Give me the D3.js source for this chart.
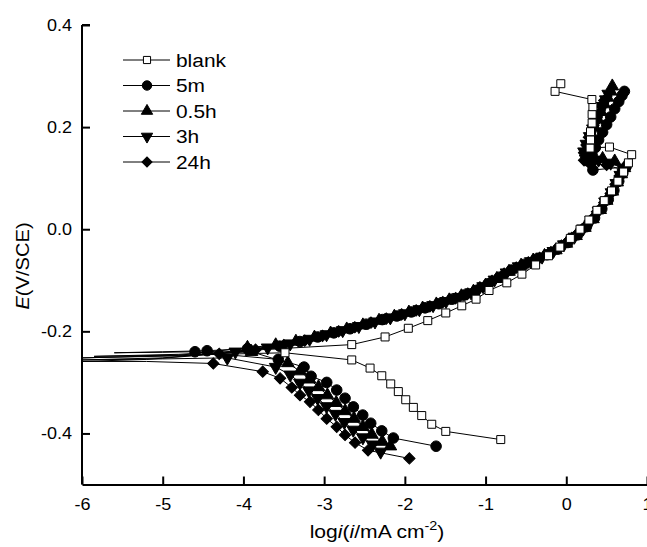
<!DOCTYPE html>
<html>
<head>
<meta charset="utf-8">
<script src="https://cdn.jsdelivr.net/npm/d3@7"></script>
<style>
  body { margin: 0; background: #fff; }
  svg { display: block; font-family: "Liberation Sans", Arial, sans-serif; }
</style>
</head>
<body>
<svg id="chart" width="647" height="547"></svg>
<script>
// tick values
const xTicks = [-6, -5, -4, -3, -2, -1, 0, 1];
const yTicks = [-0.4, -0.2, 0.0, 0.2, 0.4];

const seriesNames = ["blank", "5m", "0.5h", "3h", "24h"];

// cathodic branches, listed from Ecorr outward  [log i, E]
const blankCath = [[-3.485,-0.242],[-2.658,-0.256],[-2.431,-0.272],[-2.286,-0.287],[-2.175,-0.303],[-2.081,-0.318],[-1.989,-0.334],[-1.895,-0.349],[-1.791,-0.365],[-1.667,-0.382],[-1.493,-0.396],[-0.812,-0.412]];
const m5Cath = [[-4.600,-0.240],[-3.568,-0.255],[-3.249,-0.270],[-3.162,-0.288],[-2.968,-0.300],[-2.844,-0.315],[-2.741,-0.331],[-2.638,-0.348],[-2.522,-0.364],[-2.423,-0.380],[-2.286,-0.395],[-2.143,-0.409],[-1.613,-0.425]];
const h05Cath = [[-3.900,-0.240],[-3.450,-0.262],[-3.300,-0.278],[-3.180,-0.294],[-3.070,-0.309],[-2.960,-0.325],[-2.850,-0.340],[-2.740,-0.356],[-2.630,-0.371],[-2.520,-0.387],[-2.410,-0.402],[-2.280,-0.416],[-2.180,-0.425]];
const h3Cath = [[-4.200,-0.252],[-3.600,-0.270],[-3.420,-0.285],[-3.300,-0.301],[-3.190,-0.316],[-3.080,-0.331],[-2.970,-0.347],[-2.860,-0.362],[-2.750,-0.378],[-2.640,-0.393],[-2.520,-0.408],[-2.400,-0.422],[-2.300,-0.436]];
const h24Cath = [[-4.373,-0.263],[-3.761,-0.279],[-3.546,-0.292],[-3.401,-0.310],[-3.299,-0.325],[-3.175,-0.338],[-3.072,-0.354],[-2.968,-0.371],[-2.844,-0.387],[-2.741,-0.403],[-2.617,-0.418],[-2.456,-0.433],[-1.944,-0.449]];

// unmarked spikes at Ecorr
const blankTail = [[-4.6,-0.246],[-5.85,-0.249],[-4.8,-0.245]];
const m5Tail = [[-5.0,-0.241],[-5.6,-0.242],[-5.0,-0.240]];
const h05Tail = [[-4.8,-0.248],[-6.0,-0.252],[-4.8,-0.247]];
const h3Tail = [[-5.0,-0.254],[-6.0,-0.256],[-5.0,-0.252]];
const h24Tail = [[-5.2,-0.259],[-6.0,-0.259],[-5.2,-0.255]];

// anodic branches incl. the passive loop at top
const blankAnod = [[-2.658,-0.226],[-2.245,-0.211],[-1.957,-0.194],[-1.716,-0.179],[-1.493,-0.164],[-1.295,-0.150],[-1.118,-0.137],[-0.957,-0.120],[-0.737,-0.105],[-0.55,-0.088],[-0.38,-0.070],[-0.22,-0.052],[-0.08,-0.035],[0.05,-0.018],[0.17,0.0],[0.28,0.018],[0.38,0.037],[0.47,0.056],[0.56,0.075],[0.64,0.094],[0.71,0.112],[0.77,0.13],[0.81,0.146],[0.535,0.161],[0.295,0.159],[0.30,0.175],[0.30,0.191],[0.32,0.208],[0.32,0.225],[0.33,0.24],[0.317,0.254],[-0.139,0.270],[-0.068,0.285]];
const m5Anod = [[-4.45,-0.238],[-3.95,-0.234],[-3.55,-0.229],[-3.3,-0.220],[-3.08,-0.211],[-2.88,-0.203],[-2.68,-0.195],[-2.48,-0.186],[-2.28,-0.177],[-2.1,-0.170],[-1.92,-0.162],[-1.75,-0.154],[-1.58,-0.146],[-1.42,-0.137],[-1.27,-0.129],[-1.12,-0.120],[-0.97,-0.107],[-0.83,-0.094],[-0.68,-0.080],[-0.53,-0.069],[-0.38,-0.059],[-0.24,-0.050],[-0.11,-0.039],[0.02,-0.026],[0.14,-0.011],[0.25,0.005],[0.35,0.022],[0.44,0.040],[0.52,0.058],[0.59,0.076],[0.65,0.094],[0.7,0.110],[0.74,0.122],[0.33,0.116],[0.3,0.130],[0.32,0.145],[0.36,0.160],[0.4,0.175],[0.45,0.190],[0.5,0.205],[0.55,0.220],[0.6,0.236],[0.65,0.250],[0.69,0.262],[0.72,0.270]];
const h05Anod = [[-3.95,-0.232],[-3.6,-0.227],[-3.35,-0.220],[-3.12,-0.212],[-2.92,-0.204],[-2.72,-0.196],[-2.52,-0.188],[-2.32,-0.179],[-2.13,-0.171],[-1.95,-0.163],[-1.78,-0.155],[-1.61,-0.147],[-1.45,-0.139],[-1.3,-0.131],[-1.15,-0.122],[-1.0,-0.110],[-0.86,-0.097],[-0.71,-0.083],[-0.56,-0.071],[-0.41,-0.061],[-0.27,-0.052],[-0.13,-0.041],[0.0,-0.028],[0.12,-0.013],[0.23,0.003],[0.33,0.020],[0.42,0.038],[0.5,0.056],[0.57,0.074],[0.63,0.092],[0.68,0.108],[0.72,0.12],[0.6,0.133],[0.45,0.138],[0.27,0.14],[0.24,0.155],[0.27,0.170],[0.31,0.185],[0.35,0.200],[0.39,0.215],[0.43,0.230],[0.47,0.245],[0.51,0.258],[0.55,0.270],[0.57,0.280]];
const h3Anod = [[-4.1,-0.240],[-3.7,-0.232],[-3.42,-0.224],[-3.18,-0.215],[-2.97,-0.206],[-2.77,-0.198],[-2.57,-0.190],[-2.37,-0.181],[-2.18,-0.173],[-2.0,-0.165],[-1.82,-0.157],[-1.65,-0.149],[-1.49,-0.141],[-1.33,-0.133],[-1.18,-0.124],[-1.03,-0.112],[-0.89,-0.099],[-0.74,-0.085],[-0.59,-0.073],[-0.44,-0.063],[-0.3,-0.054],[-0.16,-0.043],[-0.03,-0.030],[0.1,-0.015],[0.21,0.001],[0.31,0.018],[0.4,0.036],[0.48,0.054],[0.56,0.072],[0.62,0.090],[0.67,0.106],[0.71,0.118],[0.55,0.130],[0.4,0.136],[0.24,0.138],[0.22,0.152],[0.25,0.167],[0.29,0.182],[0.33,0.197],[0.37,0.212],[0.41,0.227],[0.45,0.241],[0.49,0.254],[0.52,0.265]];
const h24Anod = [[-4.3,-0.244],[-3.85,-0.236],[-3.5,-0.227],[-3.24,-0.218],[-3.02,-0.209],[-2.82,-0.200],[-2.62,-0.192],[-2.42,-0.183],[-2.23,-0.175],[-2.04,-0.167],[-1.86,-0.159],[-1.69,-0.151],[-1.53,-0.143],[-1.37,-0.135],[-1.22,-0.126],[-1.07,-0.114],[-0.92,-0.101],[-0.77,-0.087],[-0.62,-0.075],[-0.47,-0.065],[-0.33,-0.056],[-0.19,-0.045],[-0.06,-0.032],[0.07,-0.017],[0.19,-0.001],[0.29,0.016],[0.38,0.034],[0.47,0.052],[0.55,0.070],[0.61,0.088],[0.66,0.104],[0.7,0.116],[0.5,0.126],[0.3,0.128],[0.22,0.135],[0.22,0.150],[0.25,0.165],[0.28,0.180],[0.32,0.195],[0.36,0.210],[0.4,0.225],[0.44,0.240],[0.47,0.252]];

const svg = d3.select("#chart");

const x = d3.scaleLinear().domain([-6, 1]).range([82, 647]);
const y = d3.scaleLinear().domain([-0.5, 0.4]).range([484.5, 25]);

// symbols
const shapes = {
  "blank": {type: d3.symbolSquare, size: 64, rot: 0, fill: "#fff"},
  "5m": {type: d3.symbolCircle, size: 88, rot: 0, fill: "#000"},
  "0.5h": {type: d3.symbolTriangle, size: 70, rot: 0, fill: "#000"},
  "3h": {type: d3.symbolTriangle, size: 70, rot: 180, fill: "#000"},
  "24h": {type: d3.symbolSquare, size: 64, rot: 45, fill: "#000"}
};

const series = [
  {name: "5m", cath: m5Cath, tail: m5Tail, anod: m5Anod},
  {name: "0.5h", cath: h05Cath, tail: h05Tail, anod: h05Anod},
  {name: "3h", cath: h3Cath, tail: h3Tail, anod: h3Anod},
  {name: "24h", cath: h24Cath, tail: h24Tail, anod: h24Anod},
  {name: "blank", cath: blankCath, tail: blankTail, anod: blankAnod}
];

const line = d3.line().x(d => x(d[0])).y(d => y(d[1]));

const plot = svg.append("g");

series.forEach(s => {
  // scan order: cathodic end -> Ecorr -> anodic end
  const path = s.cath.slice().reverse().concat(s.tail, s.anod);
  const g = plot.append("g");
  g.append("path")
    .attr("d", line(path))
    .attr("fill", "none")
    .attr("stroke", "#000")
    .attr("stroke-width", 1);
  const sh = shapes[s.name];
  g.selectAll("path.mk")
    .data(s.cath.concat(s.anod))
    .join("path")
    .attr("class", "mk")
    .attr("d", d3.symbol().type(sh.type).size(sh.size))
    .attr("transform", d => `translate(${x(d[0])},${y(d[1])}) rotate(${sh.rot})`)
    .attr("fill", sh.fill)
    .attr("stroke", "#000")
    .attr("stroke-width", 1);
});

// axes
const xAxis = d3.axisBottom(x).tickValues(xTicks).tickFormat(d => String(d))
  .tickSize(-8).tickSizeOuter(0).tickPadding(13);
const yAxis = d3.axisLeft(y).tickValues(yTicks).tickFormat(d => d.toFixed(1))
  .tickSize(-8).tickSizeOuter(0).tickPadding(9.5);

const gx = svg.append("g").attr("transform", "translate(0,484.5)").call(xAxis);
const gy = svg.append("g").attr("transform", "translate(82,0)").call(yAxis);

[gx, gy].forEach(g => {
  g.select(".domain").attr("stroke", "#000").attr("stroke-width", 2);
  g.selectAll(".tick line").attr("stroke", "#000").attr("stroke-width", 2);
  g.selectAll(".tick text").attr("fill", "#000").attr("font-size", 17)
    .attr("font-family", "Liberation Sans, Arial, sans-serif")
    .attr("transform", "scale(1.06,1)");  // original font is a bit wider
});
// axis top at 0.4 needs the little tick too
gy.select(".domain").attr("d", `M0,${y(0.4)}H8M0,${y(0.4)}V${y(-0.5)}`);

// axis titles
const xt = svg.append("text")
  .attr("transform", "translate(377,538) scale(1.11,1)")
  .attr("text-anchor", "middle")
  .attr("font-size", 19);
xt.append("tspan").text("log");
xt.append("tspan").attr("font-style", "italic").text("i");
xt.append("tspan").text("(");
xt.append("tspan").attr("font-style", "italic").text("i");
xt.append("tspan").text("/mA cm");
xt.append("tspan").attr("font-size", 13).attr("dy", -8).text("-2");
xt.append("tspan").attr("dy", 8).text(")");

const yt = svg.append("text")
  .attr("transform", "translate(29,266) rotate(-90) scale(1.06,1)")
  .attr("text-anchor", "middle")
  .attr("font-size", 19);
yt.append("tspan").attr("font-style", "italic").text("E");
yt.append("tspan").text("(V/SCE)");

// legend
const legend = svg.append("g");
const legendY = [60, 85.5, 111, 136.5, 162];
seriesNames.forEach((n, i) => {
  const ly = legendY[i];
  const sh = shapes[n];
  legend.append("line")
    .attr("x1", 123).attr("x2", 170).attr("y1", ly).attr("y2", ly)
    .attr("stroke", "#000").attr("stroke-width", 1);
  legend.append("path")
    .attr("d", d3.symbol().type(sh.type).size(sh.size * 0.8))
    .attr("transform", `translate(147,${ly}) rotate(${sh.rot})`)
    .attr("fill", sh.fill).attr("stroke", "#000").attr("stroke-width", 1);
  legend.append("text")
    .attr("transform", `translate(176,${ly + 6.5}) scale(1.1,1)`)
    .attr("font-size", 19)
    .text(n);
});
</script>
</body>
</html>
